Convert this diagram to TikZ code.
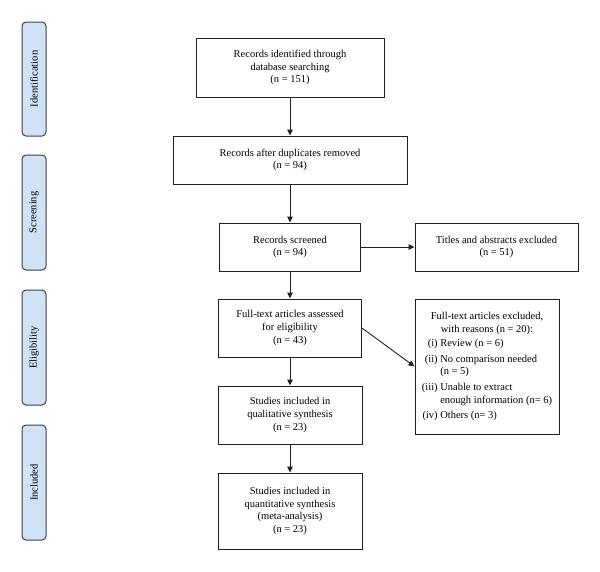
\documentclass[tikz,border=0pt]{standalone}
\usepackage{fontspec}
\setmainfont{Liberation Serif}
\usetikzlibrary{arrows.meta}
\newlength{\du}
\setlength{\du}{1pt}
\tikzset{
  flowbox/.style={draw=boxlinecolor, line width=0.9\du, fill=white, align=center,
    inner sep=2\du, font=\fontsize{10.5}{12.8}\selectfont},
  phasebar/.style={draw=barlinecolor, line width=1\du, fill=barfillcolor, rounded corners=4\du,
    minimum height=24\du, rotate=90, font=\fontsize{10.5}{12}\selectfont},
  flowarrow/.style={draw=boxlinecolor, line width=0.9\du, -{Stealth[inset=0pt,length=6pt,width=5.5pt]}}
}

\begin{document}
\begin{tikzpicture}
\pgftransformxscale{1.000000}
\pgftransformyscale{-1.000000}
\definecolor{boxlinecolor}{rgb}{0.137255, 0.121569, 0.125490}
\definecolor{barlinecolor}{rgb}{0.250000, 0.250000, 0.250000}
\definecolor{barfillcolor}{rgb}{0.812000, 0.886000, 0.965000}
\useasboundingbox (0\du,0\du) rectangle (600\du,571\du);
% phase bars on the left
\node[phasebar, minimum width=114\du] (identbar) at (34\du,79\du) {Identification};
\node[phasebar, minimum width=115\du] (screenbar) at (34\du,212.5\du) {Screening};
\node[phasebar, minimum width=115\du] (eligbar) at (34\du,347.5\du) {Eligibility};
\node[phasebar, minimum width=115\du] (inclbar) at (34\du,482.5\du) {Included};
% main column
\node[flowbox, minimum width=188\du, minimum height=59\du] (identified) at (290\du,67.5\du)
  {Records identified through\\database searching\\(n = 151)};
\node[flowbox, minimum width=234\du, minimum height=48\du] (duplicates) at (290\du,160\du)
  {Records after duplicates removed\\(n = 94)};
\node[flowbox, minimum width=141\du, minimum height=48\du] (screened) at (290\du,247\du)
  {Records screened\\(n = 94)};
\node[flowbox, minimum width=143\du, minimum height=58\du] (fulltext) at (290\du,328\du)
  {Full-text articles assessed\\for eligibility\\(n = 43)};
\node[flowbox, minimum width=144\du, minimum height=58\du] (qualitative) at (290\du,415\du)
  {Studies included in\\qualitative synthesis\\(n = 23)};
\node[flowbox, minimum width=144\du, minimum height=76\du] (quantitative) at (290\du,511\du)
  {Studies included in\\quantitative synthesis\\(meta-analysis)\\(n = 23)};
% right column
\node[flowbox, minimum width=163\du, minimum height=48\du] (titlesexcl) at (496.5\du,247\du)
  {Titles and abstracts excluded\\(n = 51)};
\node[flowbox, minimum width=144\du, minimum height=135\du] (fulltextexcl) at (487\du,366.5\du)
  {\begin{tabular}{@{}r@{\ }l@{}}
  \multicolumn{2}{c}{Full-text articles excluded,}\\
  \multicolumn{2}{c}{with reasons (n = 20):}\\[1.5pt]
  (i) & Review (n = 6)\\[2.5pt]
  (ii) & No comparison needed\\
   & (n = 5)\\[2.5pt]
  (iii) & Unable to extract\\
   & enough information (n= 6)\\[2.5pt]
  (iv) & Others (n= 3)
  \end{tabular}};
% connectors
\draw[flowarrow] (identified.south) -- (duplicates.north);
\draw[flowarrow] (duplicates.south) -- (screened.north);
\draw[flowarrow] (screened.south) -- (fulltext.north);
\draw[flowarrow] (fulltext.south) -- (qualitative.north);
\draw[flowarrow] (qualitative.south) -- (quantitative.north);
\draw[flowarrow] (screened.east) -- (titlesexcl.west);
\draw[flowarrow] (fulltext.east) -- (fulltextexcl.west);
\end{tikzpicture}
\end{document}
